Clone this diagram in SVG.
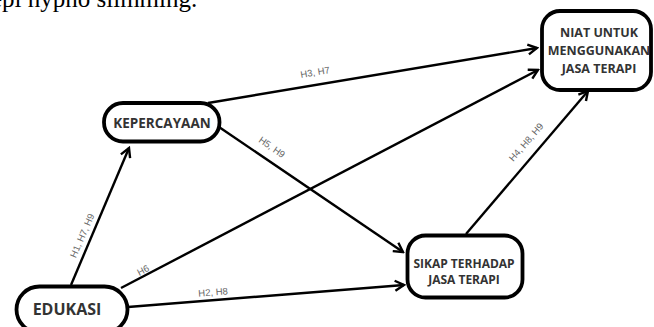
<svg xmlns="http://www.w3.org/2000/svg" width="654" height="327" viewBox="0 0 654 327">
<style>
.node{fill:#fff;stroke:#000;stroke-width:3.8}
.nt{font-family:"Open Sans","Liberation Sans",sans-serif;font-weight:bold;fill:#333;text-anchor:middle}
.edge{stroke:#000;stroke-width:2.4;fill:none;marker-end:url(#arr)}
.lbl{font-family:"Liberation Sans",Arial,sans-serif;font-size:9.5px;fill:#666;text-anchor:middle}
</style>
<defs>
<marker id="arr" markerUnits="userSpaceOnUse" viewBox="-12 -8 14 16" markerWidth="14" markerHeight="16" refX="0" refY="0" orient="auto">
<path d="M-9,-5 L0,0 L-9,5" fill="none" stroke="#000" stroke-width="2.4" stroke-linejoin="miter"/>
</marker>
</defs>
<rect width="654" height="327" fill="#fff"/>
<text x="-9" y="7" font-family="'Liberation Serif','Times New Roman',serif" font-size="25" fill="#000">epi hypno slimming.</text>
<g id="connectors">
<line class="edge" x1="71" y1="285" x2="129" y2="148"/>
<line class="edge" x1="128" y1="307" x2="404" y2="285"/>
<line class="edge" x1="121" y1="288" x2="538" y2="70"/>
<line class="edge" x1="208" y1="103" x2="537" y2="48"/>
<line class="edge" x1="219" y1="127" x2="403" y2="252"/>
<line class="edge" x1="466" y1="234" x2="588" y2="91"/>
<text class="lbl" transform="translate(82,235.5) rotate(-66)" y="3.5">H1, H7, H9</text>
<text class="lbl" transform="translate(213,292) rotate(-4.5)" y="3.5">H2, H8</text>
<text class="lbl" transform="translate(143,270) rotate(-27.5)" y="3.5">H6</text>
<text class="lbl" transform="translate(315,72) rotate(-9.5)" y="3.5">H3, H7</text>
<text class="lbl" transform="translate(272,147) rotate(35)" y="3.5">H5, H9</text>
<text class="lbl" transform="translate(526,142) rotate(-49)" y="3.5">H4, H8, H9</text>
</g>
<g id="niat">
<rect class="node" x="542" y="11" width="109" height="79" rx="18"/>
<text class="nt" x="599" y="37" font-size="12.5">NIAT UNTUK</text>
<text class="nt" x="599" y="55" font-size="12.5">MENGGUNAKAN</text>
<text class="nt" x="599" y="73" font-size="12.5">JASA TERAPI</text>
</g>
<g id="kepercayaan">
<rect class="node" x="104" y="103" width="115.5" height="38.5" rx="19"/>
<text class="nt" x="162" y="128" font-size="13.5">KEPERCAYAAN</text>
</g>
<g id="edukasi">
<rect class="node" x="16.5" y="286.5" width="111" height="46" rx="23"/>
<text class="nt" x="67" y="315" font-size="16">EDUKASI</text>
</g>
<g id="sikap">
<rect class="node" x="407.5" y="235.5" width="115" height="62" rx="18"/>
<text class="nt" x="464" y="268" font-size="12">SIKAP TERHADAP</text>
<text class="nt" x="464" y="284" font-size="12">JASA TERAPI</text>
</g>
</svg>
